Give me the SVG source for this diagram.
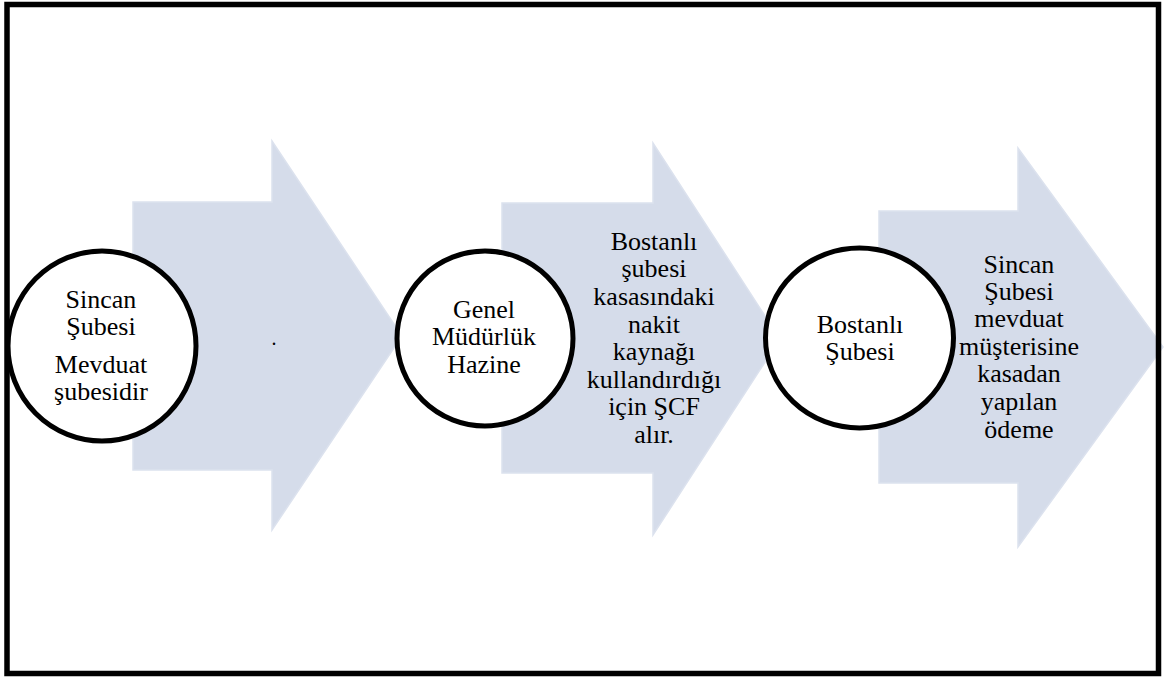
<svg xmlns="http://www.w3.org/2000/svg" width="1166" height="679" viewBox="0 0 1166 679">
<style>
.arrow{fill:#D5DCEA;stroke:#DCE2EE;stroke-width:1.5}
.circ{fill:#fff;stroke:#000;stroke-width:5}
.t{font-family:'Liberation Serif','Times New Roman',Times,serif;font-size:26px;fill:#000;text-anchor:middle}
</style>
<rect x="0" y="0" width="1166" height="679" fill="#fff"/>
<g id="connectors">
<polygon id="arrow1" class="arrow" points="133,202 272,202 272,141 402,336 272,530 272,470 133,470"/>
<polygon id="arrow2" class="arrow" points="502,203 653,203 653,143 780,339 653,535 653,473 502,473"/>
<polygon id="arrow3" class="arrow" points="879,211 1018,211 1018,148 1163,347 1018,547 1018,483 879,483"/>
</g>
<g id="label1" class="t">
<text x="274" y="345" font-size="20">.</text>
</g>
<g id="label2" class="t">
<text x="654" y="250">Bostanlı</text>
<text x="654" y="277">şubesi</text>
<text x="654" y="305">kasasındaki</text>
<text x="654" y="333">nakit</text>
<text x="654" y="360">kaynağı</text>
<text x="654" y="388">kullandırdığı</text>
<text x="654" y="415">için ŞCF</text>
<text x="654" y="443">alır.</text>
</g>
<g id="label3" class="t">
<text x="1019" y="273">Sincan</text>
<text x="1019" y="300">Şubesi</text>
<text x="1019" y="327">mevduat</text>
<text x="1019" y="355">müşterisine</text>
<text x="1019" y="382">kasadan</text>
<text x="1019" y="410">yapılan</text>
<text x="1019" y="438">ödeme</text>
</g>
<g id="node1" class="t">
<ellipse class="circ" cx="102" cy="346" rx="94" ry="95"/>
<text x="101" y="308">Sincan</text>
<text x="101" y="335">Şubesi</text>
<text x="101" y="373">Mevduat</text>
<text x="101" y="400">şubesidir</text>
</g>
<g id="node2" class="t">
<ellipse class="circ" cx="485" cy="338.5" rx="88" ry="87.5"/>
<text x="484" y="318">Genel</text>
<text x="484" y="345">Müdürlük</text>
<text x="484" y="373">Hazine</text>
</g>
<g id="node3" class="t">
<ellipse class="circ" cx="859.5" cy="338" rx="94" ry="90"/>
<text x="860" y="333">Bostanlı</text>
<text x="860" y="360">Şubesi</text>
</g>
<rect id="frame" x="7" y="4.5" width="1151.5" height="669" fill="none" stroke="#000" stroke-width="5.5"/>
</svg>
